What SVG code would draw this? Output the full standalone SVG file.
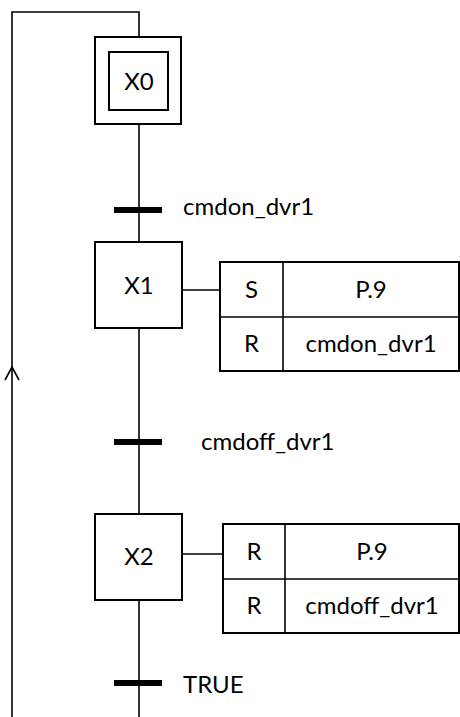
<svg xmlns="http://www.w3.org/2000/svg" width="460" height="717" viewBox="0 0 460 717">
<style>
  .box { fill: #fff; stroke: #000; stroke-width: 2; }
  .ln { fill: none; stroke: #000; stroke-width: 1.6; }
  .bar { fill: #000; }
  text { font-family: Lato, "Open Sans", sans-serif; font-size: 24px; fill: #000; }
  .c { text-anchor: middle; }
</style>
<rect width="460" height="717" fill="#fff"/>
<g id="connectors">
  <polyline class="ln" points="12,717 12,12 139,12 139,37"/>
  <polyline class="ln" points="5,380 12,367 19,380"/>
  <line class="ln" x1="139" y1="124" x2="139" y2="242"/>
  <line class="ln" x1="139" y1="328" x2="139" y2="514"/>
  <line class="ln" x1="139" y1="600" x2="139" y2="717"/>
  <line class="ln" x1="182" y1="290" x2="220" y2="290"/>
  <line class="ln" x1="182" y1="554" x2="223" y2="554"/>
</g>
<g id="X0">
  <rect class="box" x="95" y="37" width="86" height="87"/>
  <rect class="box" x="109" y="52" width="59" height="58"/>
  <text class="c" x="139" y="90">X0</text>
</g>
<g id="T1">
  <rect class="bar" x="114" y="207" width="48" height="6"/>
  <text x="183" y="215">cmdon_dvr1</text>
</g>
<g id="X1">
  <rect class="box" x="95" y="242" width="87" height="86"/>
  <text class="c" x="139" y="294">X1</text>
</g>
<g id="A1">
  <rect class="box" x="220" y="262" width="239" height="109"/>
  <line class="ln" x1="220" y1="317" x2="459" y2="317"/>
  <line class="ln" x1="283" y1="262" x2="283" y2="371"/>
  <text class="c" x="251.5" y="298">S</text>
  <text class="c" x="371" y="298">P.9</text>
  <text class="c" x="251.5" y="352">R</text>
  <text class="c" x="371" y="352">cmdon_dvr1</text>
</g>
<g id="T2">
  <rect class="bar" x="114" y="439" width="48" height="6"/>
  <text x="201" y="450">cmdoff_dvr1</text>
</g>
<g id="X2">
  <rect class="box" x="95" y="514" width="87" height="86"/>
  <text class="c" x="139" y="565">X2</text>
</g>
<g id="A2">
  <rect class="box" x="223" y="524" width="236" height="109"/>
  <line class="ln" x1="223" y1="579" x2="459" y2="579"/>
  <line class="ln" x1="285" y1="524" x2="285" y2="633"/>
  <text class="c" x="254" y="560">R</text>
  <text class="c" x="372" y="560">P.9</text>
  <text class="c" x="254" y="614">R</text>
  <text class="c" x="372" y="614">cmdoff_dvr1</text>
</g>
<g id="T3">
  <rect class="bar" x="114" y="680" width="48" height="6"/>
  <text x="183" y="693">TRUE</text>
</g>
</svg>
